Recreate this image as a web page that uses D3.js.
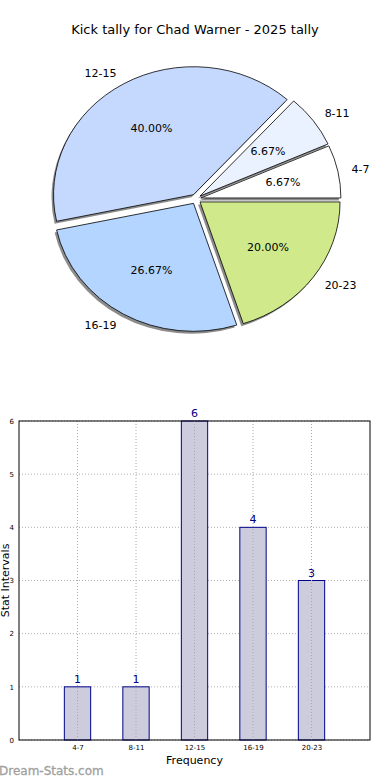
<!DOCTYPE html>
<html>
<head>
<meta charset="utf-8">
<script src="https://cdn.jsdelivr.net/npm/d3@7"></script>
<style>
  body { margin: 0; background: #fff; }
  svg { display: block; font-family: "DejaVu Sans", sans-serif; }
</style>
</head>
<body>
<svg id="chart" width="390" height="780"></svg>
<script>
// data
const categories = ["4-7", "8-11", "12-15", "16-19", "20-23"];
const counts = [1, 1, 6, 4, 3];
const sliceColors = ["#ffffff", "#eaf2ff", "#c5d9ff", "#b4d5ff", "#d0ea8b"];
const yTicks = [0, 1, 2, 3, 4, 5, 6];

const svg = d3.select("#chart");

// title
svg.append("text")
  .attr("x", 195).attr("y", 34)
  .attr("text-anchor", "middle")
  .style("font-size", "13px")
  .text("Kick tally for Chad Warner - 2025 tally");

// ---- pie ----
const cx = 196, cy = 199, rx = 140, ry = 128, explode = 5;
const total = d3.sum(counts);

// matplotlib style: start at east, counterclockwise
const pie = d3.pie().sort(null).value(d => d.v)
  .startAngle(Math.PI / 2).endAngle(Math.PI / 2 - 2 * Math.PI);
const arcs = pie(categories.map((c, i) => ({ c, v: counts[i], col: sliceColors[i] })));

// d3 angles: 0 = up, clockwise. convert to screen vector
const dir = a => [Math.sin(a), -Math.cos(a)];

// unit arc, scaled to ellipse with transform
const arc = d3.arc().innerRadius(0).outerRadius(1);

const pieLayer = svg.append("g");

arcs.forEach(d => {
  const mid = (d.startAngle + d.endAngle) / 2;
  const [ux, uy] = dir(mid);
  d.ox = cx + ux * explode; d.oy = cy + uy * explode;
  d.ux = ux; d.uy = uy;
});

// shadows
pieLayer.selectAll(".shadow")
  .data(arcs).enter().append("path")
  .attr("class", "shadow")
  .attr("d", arc)
  .attr("transform", d => `translate(${d.ox - 2},${d.oy + 2.5}) scale(${rx},${ry})`)
  .style("fill", "#000")
  .style("opacity", 0.45);

pieLayer.selectAll(".slice")
  .data(arcs).enter().append("path")
  .attr("class", "slice")
  .attr("d", arc)
  .attr("transform", d => `translate(${d.ox},${d.oy}) scale(${rx},${ry})`)
  .style("fill", d => d.data.col)
  .style("stroke", "#000")
  .style("stroke-width", 0.8)
  .attr("vector-effect", "non-scaling-stroke");

// labels
pieLayer.selectAll(".lbl")
  .data(arcs).enter().append("text")
  .attr("x", d => d.ox + d.ux * rx * 1.1)
  .attr("y", d => d.oy + d.uy * ry * 1.1)
  .attr("dy", "0.35em")
  .attr("text-anchor", d => d.ux < 0 ? "end" : "start")
  .style("font-size", "11px")
  .text(d => d.data.c);

pieLayer.selectAll(".pct")
  .data(arcs).enter().append("text")
  .attr("x", d => d.ox + d.ux * rx * 0.6)
  .attr("y", d => d.oy + d.uy * ry * 0.6)
  .attr("dy", "0.35em")
  .attr("text-anchor", "middle")
  .style("font-size", "11px")
  .text(d => (d.data.v / total * 100).toFixed(2) + "%");

// ---- bar chart ----
const m = { left: 19, right: 370, top: 421, bottom: 740 };
const x = d3.scaleLinear().domain([-1, 5]).range([m.left, m.right]);
const y = d3.scaleLinear().domain([0, 6]).range([m.bottom, m.top]);
const barW = x(0.45) - x(0);

const bar = svg.append("g");

// grid
bar.selectAll(".hgrid").data(yTicks).enter().append("line")
  .attr("x1", m.left).attr("x2", m.right)
  .attr("y1", d => y(d)).attr("y2", d => y(d))
  .style("stroke", "#b0b0b0").style("stroke-dasharray", "1,2");

bar.selectAll(".bar")
  .data(counts).enter().append("rect")
  .attr("class", "bar")
  .attr("x", (d, i) => x(i) - barW / 2)
  .attr("y", d => y(d))
  .attr("width", barW)
  .attr("height", d => m.bottom - y(d))
  .style("fill", "#ccccdd")
  .style("stroke", "#00008b")
  .style("stroke-width", 1);

// vertical grid drawn over the bars
bar.selectAll(".vgrid").data(categories).enter().append("line")
  .attr("x1", (d, i) => x(i)).attr("x2", (d, i) => x(i))
  .attr("y1", m.top).attr("y2", m.bottom)
  .style("stroke", "#a8a8b8").style("stroke-dasharray", "1,2");

bar.selectAll(".val")
  .data(counts).enter().append("text")
  .attr("x", (d, i) => x(i))
  .attr("y", d => y(d) - 4)
  .attr("text-anchor", "middle")
  .style("font-size", "11px")
  .style("fill", "#000080")
  .text(d => d);

// frame
bar.append("rect")
  .attr("x", m.left).attr("y", m.top)
  .attr("width", m.right - m.left).attr("height", m.bottom - m.top)
  .style("fill", "none").style("stroke", "#000").style("stroke-width", 1);

// axes
const yAxis = d3.axisLeft(y).tickValues(yTicks).tickFormat(d3.format("d")).tickSize(0).tickPadding(5);
bar.append("g").attr("transform", `translate(${m.left},0)`).call(yAxis)
  .call(g => g.select(".domain").remove())
  .call(g => g.selectAll("text").style("font-size", "7px").style("font-family", "DejaVu Sans"));

const xAxis = d3.axisBottom(x).tickValues(d3.range(categories.length))
  .tickFormat(i => categories[i]).tickSize(0).tickPadding(5);
bar.append("g").attr("transform", `translate(0,${m.bottom})`).call(xAxis)
  .call(g => g.select(".domain").remove())
  .call(g => g.selectAll("text").style("font-size", "7px").style("font-family", "DejaVu Sans"));

svg.append("text")
  .attr("x", (m.left + m.right) / 2).attr("y", 764)
  .attr("text-anchor", "middle")
  .style("font-size", "11px")
  .text("Frequency");

svg.append("text")
  .attr("transform", `translate(8.5,${(m.top + m.bottom) / 2}) rotate(-90)`)
  .attr("text-anchor", "middle")
  .style("font-size", "11px")
  .text("Stat Intervals");

svg.append("text")
  .attr("x", -1).attr("y", 775)
  .style("font-size", "12px")
  .style("fill", "#a0a0a0")
  .style("stroke", "#a0a0a0")
  .style("stroke-width", 0.3)
  .text("Dream-Stats.com");
</script>
</body>
</html>
